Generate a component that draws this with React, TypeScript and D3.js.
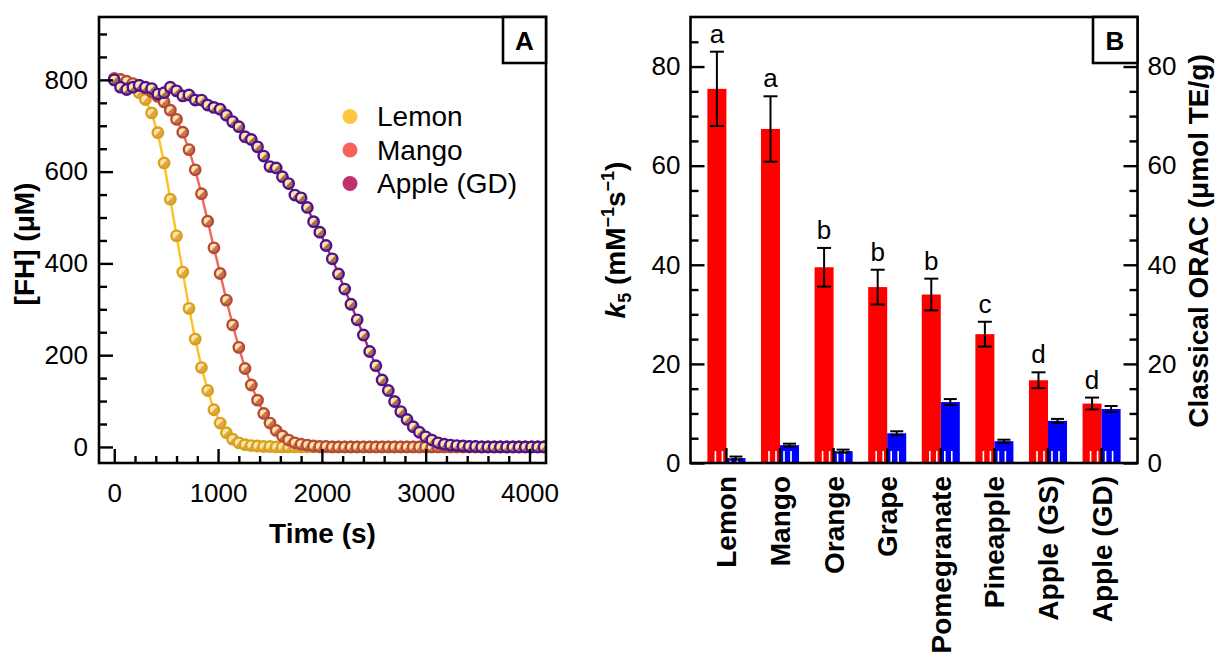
import * as d3 from "d3";
import { useEffect, useRef } from "react";

// panel A: FH decay, one point per minute
const times = [
  0, 60, 120, 180, 240, 300, 360, 420, 480, 540, 600, 660, 720, 780, 840, 900, 960, 1020, 1080, 1140,
  1200, 1260, 1320, 1380, 1440, 1500, 1560, 1620, 1680, 1740, 1800, 1860, 1920, 1980, 2040, 2100, 2160,
  2220, 2280, 2340, 2400, 2460, 2520, 2580, 2640, 2700, 2760, 2820, 2880, 2940, 3000, 3060, 3120, 3180,
  3240, 3300, 3360, 3420, 3480, 3540, 3600, 3660, 3720, 3780, 3840, 3900, 3960, 4020, 4080, 4140,
];
const lemon = [
  800, 797, 792, 784, 772, 757, 728, 685, 619, 540, 460, 381, 302, 235, 173, 123, 81, 52, 31, 17,
  9, 5, 3, 2, 1, 1, 0, 0, 0, 0, 0, 0, 0, 0, 0, 0, 0,
  0, 0, 0, 0, 0, 0, 0, 0, 0, 0, 0, 0, 0, 0, 0, 0, 0,
  0, 0, 0, 0, 0, 0, 0, 0, 0, 0, 0, 0, 0, 0, 0, 0,
];
const mango = [
  803, 801, 797, 792, 788, 782, 774, 764, 752, 734, 714, 686, 648, 604, 552, 492, 434, 378, 320, 266,
  217, 171, 135, 102, 73, 52, 36, 24, 15, 9, 6, 4, 2, 1, 1, 0, 0,
  0, 0, 0, 0, 0, 0, 0, 0, 0, 0, 0, 0, 0, 0, 0, 0, 0,
  0, 0, 0, 0, 0, 0, 0, 0, 0, 0, 0, 0, 0, 0, 0, 0,
];
const appleGD = [
  800, 784, 779, 784, 788, 784, 781, 769, 772, 784, 776, 765, 767, 756, 756, 745, 740, 736, 723, 709,
  698, 676, 670, 654, 634, 611, 608, 589, 574, 549, 543, 522, 491, 468, 439, 410, 377,
  344, 311, 277, 244, 208, 177, 146, 123, 99, 77, 60, 44, 32, 22, 15, 9, 6,
  4, 3, 2, 1, 1, 0, 0, 0, 0, 0, 0, 0, 0, 0, 0, 0,
];
const aYTicks = [0, 200, 400, 600, 800];
const aXTicks = [0, 1000, 2000, 3000, 4000];

// panel B
const fruits = ["Lemon", "Mango", "Orange", "Grape", "Pomegranate", "Pineapple", "Apple (GS)", "Apple (GD)"];
const k5 = [75.5, 67.4, 39.5, 35.5, 34.0, 26.0, 16.7, 12.0];
const k5Err = [7.5, 6.6, 3.9, 3.5, 3.2, 2.5, 1.6, 1.2];
const orac = [1.0, 3.6, 2.4, 6.0, 12.3, 4.4, 8.5, 10.9];
const oracErr = [0.3, 0.3, 0.3, 0.4, 0.6, 0.3, 0.4, 0.6];
const groups = ["a", "a", "b", "b", "b", "c", "d", "d"];
const bTicks = [0, 20, 40, 60, 80];

const FONT = "'Liberation Sans', Arial, sans-serif";

const series = [
  { name: "Lemon", values: lemon, line: "#FFC125", edge: "#D6A11E", dark: "#E3A546", key: "#FFC73B" },
  { name: "Mango", values: mango, line: "#F26858", edge: "#B5493A", dark: "#C8744C", key: "#F5635B" },
  { name: "Apple (GD)", values: appleGD, line: "#A42A6E", edge: "#4B1390", dark: "#A86C4C", key: "#C0306F" },
];

function styleAxis(g: any) {
  g.select(".domain").remove();
  g.selectAll("line").attr("stroke", "#000").attr("stroke-width", 2.4);
  g.selectAll("text").attr("font-size", 26).attr("font-family", FONT).attr("fill", "#000");
}

export default function App() {
  const ref = useRef<SVGSVGElement>(null);

  useEffect(() => {
    const svg = d3.select(ref.current);
    svg.selectAll("*").remove();
    const defs = svg.append("defs");

    // ---------- Panel A ----------
    const ax = d3.scaleLinear().domain([-147, 4159]).range([99, 546]);
    const ay = d3.scaleLinear().domain([-35, 937]).range([463, 17]);

    defs.append("clipPath").attr("id", "clipA")
      .append("rect").attr("x", 99).attr("y", 17).attr("width", 447).attr("height", 446);

    series.forEach((s, i) => {
      const gr = defs.append("linearGradient").attr("id", "mk" + i)
        .attr("x1", 0).attr("y1", 0).attr("x2", 1).attr("y2", 1);
      gr.append("stop").attr("offset", "0%").attr("stop-color", "#FFEDB4");
      gr.append("stop").attr("offset", "46%").attr("stop-color", "#FFE2A0");
      gr.append("stop").attr("offset", "54%").attr("stop-color", s.dark);
      gr.append("stop").attr("offset", "100%").attr("stop-color", s.dark);
    });

    const plotA = svg.append("g").attr("clip-path", "url(#clipA)");
    const line = d3.line<number>()
      .x((d, i) => ax(times[i]))
      .y((d) => ay(d))
      .curve(d3.curveBasis);

    series.forEach((s, i) => {
      plotA.append("path")
        .attr("d", line(s.values))
        .attr("fill", "none")
        .attr("stroke", s.line)
        .attr("stroke-width", 2.4);
      plotA.selectAll(".m" + i)
        .data(s.values)
        .enter()
        .append("circle")
        .attr("cx", (d, j) => ax(times[j]))
        .attr("cy", (d) => ay(d))
        .attr("r", 5.2)
        .attr("fill", `url(#mk${i})`)
        .attr("stroke", s.edge)
        .attr("stroke-width", 2.4);
    });

    // legend
    series.forEach((s, i) => {
      svg.append("circle").attr("cx", 350).attr("cy", 116.5 + i * 33.5).attr("r", 7.5).attr("fill", s.key);
      svg.append("text").attr("x", 377).attr("y", 126 + i * 33.5)
        .attr("font-size", 28).attr("font-family", FONT).text(s.name);
    });

    svg.append("g").attr("transform", "translate(99,0)")
      .call(d3.axisLeft(ay).tickValues(d3.range(50, 937, 50).filter((v) => v % 200 !== 0))
        .tickSizeInner(-8).tickSizeOuter(0).tickFormat(() => ""))
      .call(styleAxis);
    svg.append("g").attr("transform", "translate(99,0)")
      .call(d3.axisLeft(ay).tickValues(aYTicks).tickSizeInner(-14).tickSizeOuter(0).tickPadding(11)
        .tickFormat(d3.format("d")))
      .call(styleAxis);
    svg.append("g").attr("transform", "translate(0,463)")
      .call(d3.axisBottom(ax).tickValues(d3.range(200, 4159, 200).filter((v) => v % 1000 !== 0))
        .tickSizeInner(-7).tickSizeOuter(0).tickFormat(() => ""))
      .call(styleAxis);
    svg.append("g").attr("transform", "translate(0,463)")
      .call(d3.axisBottom(ax).tickValues(aXTicks).tickSizeInner(-14).tickSizeOuter(0).tickPadding(21)
        .tickFormat(d3.format("d")))
      .call(styleAxis);

    svg.append("rect").attr("x", 99).attr("y", 17).attr("width", 447).attr("height", 446)
      .attr("fill", "none").attr("stroke", "#000").attr("stroke-width", 2.6);
    svg.append("rect").attr("x", 503).attr("y", 17).attr("width", 43).attr("height", 46)
      .attr("fill", "#fff").attr("stroke", "#000").attr("stroke-width", 2.6);
    svg.append("text").attr("x", 524.5).attr("y", 50).attr("text-anchor", "middle")
      .attr("font-size", 26).attr("font-weight", "bold").attr("font-family", FONT).text("A");

    svg.append("text").attr("transform", "translate(34,244) rotate(-90)")
      .attr("text-anchor", "middle").attr("font-size", 28).attr("font-weight", "bold")
      .attr("font-family", FONT).text("[FH] (μM)");
    svg.append("text").attr("x", 322.5).attr("y", 543)
      .attr("text-anchor", "middle").attr("font-size", 28).attr("font-weight", "bold")
      .attr("font-family", FONT).text("Time (s)");

    // ---------- Panel B ----------
    const bx = d3.scaleBand().domain(fruits).range([690.5, 1137.5]).paddingInner(0.29).paddingOuter(0.315);
    const by = d3.scaleLinear().domain([0, 90]).range([463, 17]);
    const half = bx.bandwidth() / 2;

    const gB = svg.append("g");
    fruits.forEach((f, i) => {
      const x0 = bx(f) as number;
      const c = x0 + half;
      gB.append("rect").attr("x", x0).attr("y", by(k5[i])).attr("width", half)
        .attr("height", 463 - by(k5[i])).attr("fill", "#FF0000");
      gB.append("rect").attr("x", c).attr("y", by(orac[i])).attr("width", half)
        .attr("height", 463 - by(orac[i])).attr("fill", "#0000FF");
      [-11, -4, 4, 11].forEach((o) => {
        gB.append("line").attr("x1", c + o).attr("x2", c + o).attr("y1", 463).attr("y2", 451)
          .attr("stroke", "#fff").attr("stroke-width", 1.6);
      });
      gB.append("line").attr("x1", c).attr("x2", c).attr("y1", 463).attr("y2", 448)
        .attr("stroke", "#000").attr("stroke-width", 2.4);

      const errBar = (cx: number, v: number, e: number, cap: number) => {
        const g = gB.append("g").attr("stroke", "#000").attr("stroke-width", 2);
        g.append("line").attr("x1", cx).attr("x2", cx).attr("y1", by(v - e)).attr("y2", by(v + e));
        g.append("line").attr("x1", cx - cap / 2).attr("x2", cx + cap / 2).attr("y1", by(v + e)).attr("y2", by(v + e));
        g.append("line").attr("x1", cx - cap / 2).attr("x2", cx + cap / 2).attr("y1", by(v - e)).attr("y2", by(v - e));
      };
      errBar(x0 + half / 2, k5[i], k5Err[i], 14);
      errBar(c + half / 2, orac[i], oracErr[i], 13);

      gB.append("text").attr("x", x0 + half / 2).attr("y", by(k5[i] + k5Err[i]) - 9)
        .attr("text-anchor", "middle").attr("font-size", 26).attr("font-family", FONT).text(groups[i]);

      gB.append("text").attr("transform", `translate(${c + 10},476) rotate(-90)`)
        .attr("text-anchor", "end").attr("font-size", 28).attr("font-weight", "bold")
        .attr("font-family", FONT).text(f);
    });

    const minorB = d3.range(5, 90, 5).filter((v) => v % 20 !== 0);
    svg.append("g").attr("transform", "translate(690.5,0)")
      .call(d3.axisLeft(by).tickValues(minorB).tickSizeInner(-8).tickSizeOuter(0).tickFormat(() => ""))
      .call(styleAxis);
    svg.append("g").attr("transform", "translate(690.5,0)")
      .call(d3.axisLeft(by).tickValues(bTicks).tickSizeInner(-14).tickSizeOuter(0).tickPadding(10))
      .call(styleAxis);
    svg.append("g").attr("transform", "translate(1137.5,0)")
      .call(d3.axisRight(by).tickValues(minorB).tickSizeInner(-8).tickSizeOuter(0).tickFormat(() => ""))
      .call(styleAxis);
    svg.append("g").attr("transform", "translate(1137.5,0)")
      .call(d3.axisRight(by).tickValues(bTicks).tickSizeInner(-14).tickSizeOuter(0).tickPadding(10))
      .call(styleAxis);

    svg.append("rect").attr("x", 690.5).attr("y", 17).attr("width", 447).attr("height", 446)
      .attr("fill", "none").attr("stroke", "#000").attr("stroke-width", 2.6);
    svg.append("rect").attr("x", 1093).attr("y", 17).attr("width", 44.5).attr("height", 46)
      .attr("fill", "#fff").attr("stroke", "#000").attr("stroke-width", 2.6);
    svg.append("text").attr("x", 1115).attr("y", 50).attr("text-anchor", "middle")
      .attr("font-size", 26).attr("font-weight", "bold").attr("font-family", FONT).text("B");

    const kt = svg.append("text").attr("transform", "translate(625,240) rotate(-90)")
      .attr("text-anchor", "middle").attr("font-size", 28).attr("font-weight", "bold")
      .attr("font-family", FONT);
    kt.append("tspan").attr("font-style", "italic").text("k");
    kt.append("tspan").attr("font-size", 18).attr("dy", 6).text("5");
    kt.append("tspan").attr("dy", -6).text(" (mM");
    kt.append("tspan").attr("font-size", 18).attr("dy", -11).text("−1");
    kt.append("tspan").attr("dy", 11).text("s");
    kt.append("tspan").attr("font-size", 18).attr("dy", -11).text("−1");
    kt.append("tspan").attr("dy", 11).text(")");

    svg.append("text").attr("transform", "translate(1208,241) rotate(-90)")
      .attr("text-anchor", "middle").attr("font-size", 28).attr("font-weight", "bold")
      .attr("font-family", FONT).text("Classical ORAC (μmol TE/g)");
  }, []);

  return (
    <svg
      ref={ref}
      width={1216}
      height={657}
      style={{ position: "absolute", left: 0, top: 0, background: "#fff" }}
    />
  );
}
